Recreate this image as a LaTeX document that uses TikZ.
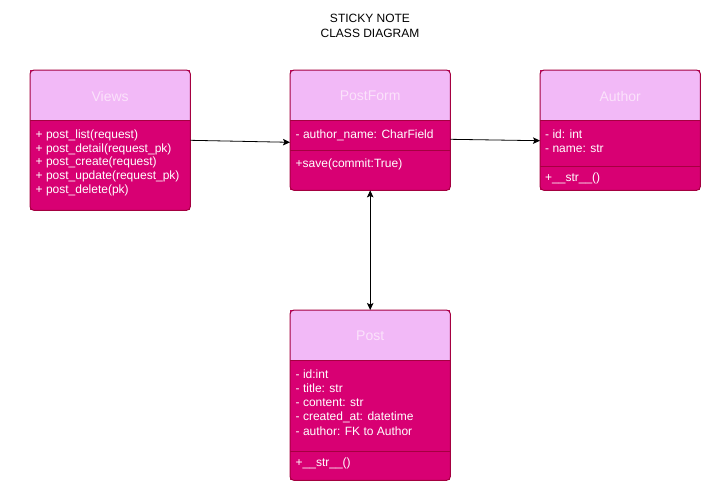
\documentclass[tikz,border=0pt]{standalone}
\usepackage{fontspec}
\setmainfont{Liberation Sans}
\usetikzlibrary{arrows.meta,calc}
\definecolor{bodyc}{HTML}{D80073}
\definecolor{strk}{HTML}{A50040}
\definecolor{hdrc}{HTML}{F2B9F7}
\definecolor{hdrtxt}{HTML}{FBE2FB}
\tikzset{
  bodybox/.style={fill=bodyc, draw=none, inner sep=0pt, anchor=north west},
  outline/.style={draw=strk, line width=1pt, rounded corners=4pt},
  sepline/.style={draw=strk, line width=1pt},
  hdrlabel/.style={text=hdrtxt, font=\fontsize{14}{16}\selectfont, inner sep=0pt},
  member/.style={text=white, font=\fontsize{12}{14}\selectfont, inner sep=0pt, anchor=base west},
  titlelabel/.style={text=black, font=\fontsize{12}{15}\selectfont, align=center, inner sep=0pt},
  conn/.style={draw=black, line width=0.8pt, -{Stealth[length=7pt,width=6.5pt,inset=1.5pt]}},
}
\newcommand{\umlheader}[3]{% node, header height, label
  \begin{scope}
    \clip[rounded corners=4pt] (#1.north west) rectangle (#1.south east);
    \fill[hdrc] (#1.north west) rectangle ([yshift=-#2pt]#1.north east);
  \end{scope}
  \draw[sepline] ([yshift=-#2pt]#1.north west) -- ([yshift=-#2pt]#1.north east);
  \node[hdrlabel] (#1-title) at ([yshift=-26pt]#1.north) {#3};
}
\begin{document}
\begin{tikzpicture}[x=1pt,y=-1pt]
\useasboundingbox (0,0) rectangle (720,490);
\fill[white] (0,0) rectangle (720,490);

\node[titlelabel] (title) at (370,25.5) {STICKY NOTE\\CLASS DIAGRAM};

% Views
\node[bodybox, minimum width=160pt, minimum height=140pt] (views) at (30,70) {};
\umlheader{views}{50}{Views}
\foreach \t [count=\i] in {{+ post\_list(request)},{+ post\_detail(request\_pk)},{+ post\_create(request)},{+ post\_update(request\_pk)},{+ post\_delete(pk)}}
  \node[member] (views-m\i) at (35.5,{138.5+13.7*(\i-1)}) {\t};
\draw[outline] (views.north west) rectangle (views.south east);

% PostForm
\node[bodybox, minimum width=160pt, minimum height=120pt] (postform) at (290,70) {};
\umlheader{postform}{50}{PostForm}
\draw[sepline] ([yshift=-80pt]postform.north west) -- ([yshift=-80pt]postform.north east);
\node[member] (postform-a1) at (295.5,138) {- author\_name: CharField};
\node[member] (postform-o1) at (295.5,167.5) {+save(commit:True)};
\draw[outline] (postform.north west) rectangle (postform.south east);

% Author
\node[bodybox, minimum width=160pt, minimum height=120pt] (author) at (540,70) {};
\umlheader{author}{50}{Author}
\draw[sepline] ([yshift=-96pt]author.north west) -- ([yshift=-96pt]author.north east);
\node[member] (author-a1) at (545,138) {- id: int};
\node[member] (author-a2) at (545,152.3) {- name: str};
\node[member] (author-o1) at (545,181.3) {+\_\_str\_\_()};
\draw[outline] (author.north west) rectangle (author.south east);

% Post
\node[bodybox, minimum width=160pt, minimum height=170pt] (post) at (290,310) {};
\umlheader{post}{50}{Post}
\draw[sepline] ([yshift=-141pt]post.north west) -- ([yshift=-141pt]post.north east);
\foreach \t [count=\i] in {{- id:int},{- title: str},{- content: str},{- created\_at: datetime},{- author: FK to Author}}
  \node[member] (post-a\i) at (295.5,{378+14.25*(\i-1)}) {\t};
\node[member] (post-o1) at (295.5,466.3) {+\_\_str\_\_()};
\draw[outline] (post.north west) rectangle (post.south east);

% connectors
\draw[conn] ([yshift=-70.3pt]views.north east) -- ([yshift=-72.3pt]postform.north west);
\draw[conn] ([yshift=-69.3pt]postform.north east) -- ([yshift=-70.7pt]author.north west);
\draw[conn, {Stealth[length=7pt,width=6.5pt,inset=1.5pt]}-{Stealth[length=7pt,width=6.5pt,inset=1.5pt]}] (postform.south) -- (post.north);
\end{tikzpicture}
\end{document}
